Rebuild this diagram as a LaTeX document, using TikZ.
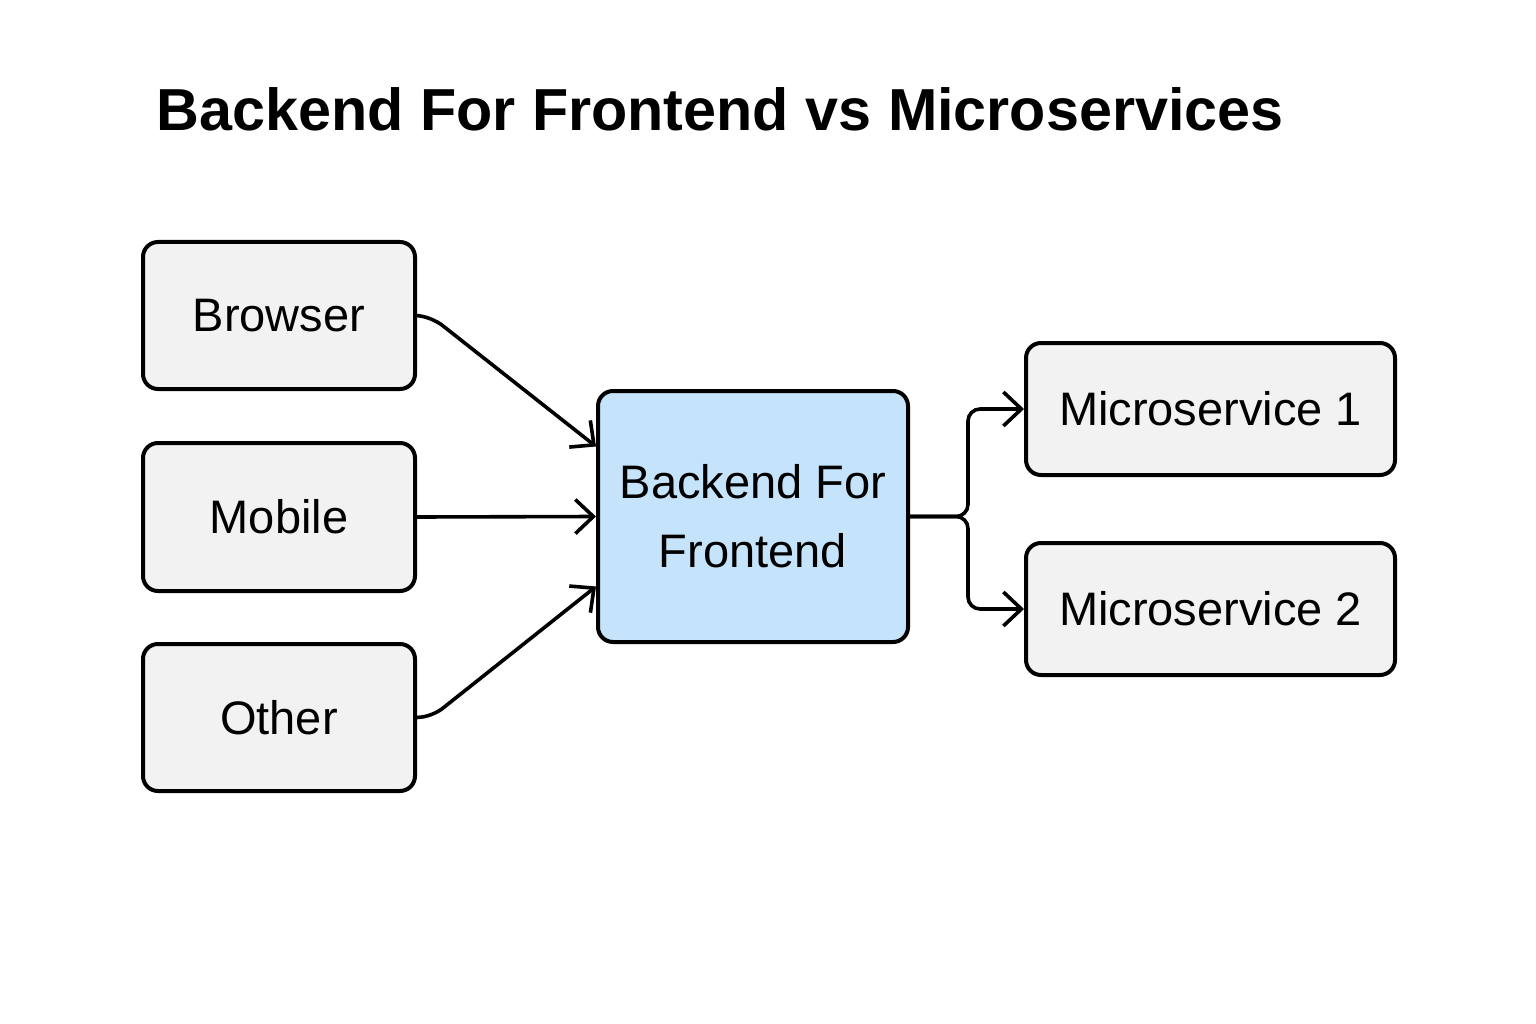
\documentclass[tikz,border=0pt]{standalone}
\usepackage{fontspec}
\setmainfont{Liberation Sans}
\usetikzlibrary{arrows.meta}
\definecolor{boxgray}{HTML}{F2F2F2}
\definecolor{bffblue}{HTML}{C5E3FA}
\begin{document}
\begin{tikzpicture}[x=1pt,y=-1pt,
  box/.style={draw=black, line width=4pt, rounded corners=15pt, fill=boxgray, align=center, inner sep=0pt},
  lbl/.style={font=\fontsize{47}{69}\selectfont},
  conn/.style={draw=black, line width=3.6pt, rounded corners=12pt, -{Straight Barb[length=18pt,width=34pt,line width=3.6pt]}}
]
\useasboundingbox[fill=white] (0,0) rectangle (1536,1024);
\node[anchor=base west, font=\bfseries\fontsize{59.3}{72}\selectfont] (title) at (153,131) {Backend For Frontend vs Microservices};

\node[box, lbl, minimum width=272pt, minimum height=147pt] (browser) at (279,315.5) {Browser};
\node[box, lbl, minimum width=272pt, minimum height=148pt] (mobile) at (279,517) {Mobile};
\node[box, lbl, minimum width=272pt, minimum height=147pt] (other) at (279,717.5) {Other};
\node[box, lbl, fill=bffblue, minimum width=310pt, minimum height=251pt] (bff) at (753,516.5) {Backend For\\Frontend};
\node[box, lbl, minimum width=369pt, minimum height=132pt] (ms1) at (1210.5,409) {Microservice 1};
\node[box, lbl, minimum width=369pt, minimum height=132pt] (ms2) at (1210.5,609) {Microservice 2};

\draw[conn] (browser.east) -- (433,318) -- ([yshift=70pt]bff.west);
\draw[conn] (mobile.east) -- (bff.west);
\draw[conn] (other.east) -- (433,716) -- ([yshift=-70pt]bff.west);
\draw[conn] (bff.east) -- (968,516.5) -- (968,409) -- (ms1.west);
\draw[conn] (bff.east) -- (968,516.5) -- (968,609) -- (ms2.west);
\end{tikzpicture}
\end{document}
